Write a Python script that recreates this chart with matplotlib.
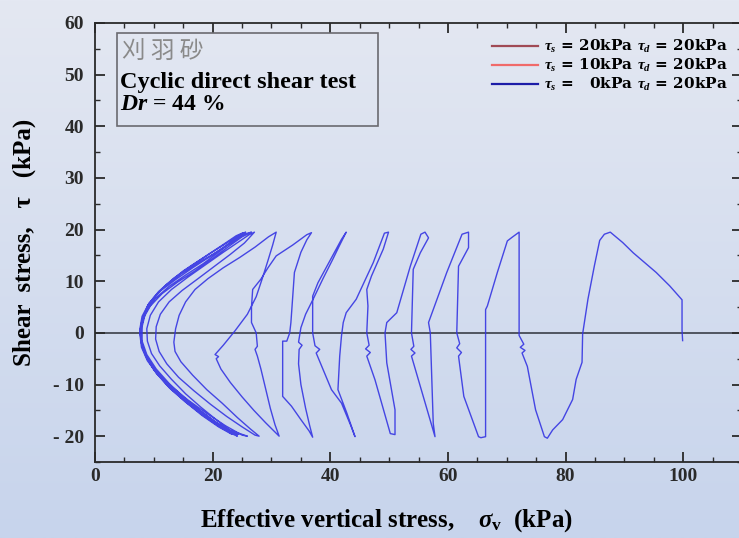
import numpy as np
import matplotlib
matplotlib.use("Agg")
import matplotlib.pyplot as plt
from matplotlib.lines import Line2D
from matplotlib.patches import Rectangle
from matplotlib.colors import LinearSegmentedColormap
from matplotlib.ticker import MultipleLocator, FuncFormatter

plt.rcParams['font.family'] = ['Liberation Serif', 'DejaVu Serif']
plt.rcParams['font.weight'] = 'bold'
plt.rcParams['axes.labelweight'] = 'bold'
plt.rcParams['mathtext.fontset'] = 'custom'
plt.rcParams['mathtext.rm'] = 'Liberation Serif:bold'
plt.rcParams['mathtext.it'] = 'Liberation Serif:italic:bold'
plt.rcParams['mathtext.bf'] = 'Liberation Serif:bold'

# stress path, tau_s = 0 kPa, tau_d = 20 kPa  (high sigma'v cycles)
sig_early = [99.9, 99.8, 99.8, 97.7, 95.4, 91.5, 89.7, 87.6,
             86.6, 85.8, 84.9, 83.8, 82.9, 82.8, 81.8, 81.2, 79.5, 77.8, 76.9, 76.4,
             74.9, 73.5, 72.6, 73.1, 72.3, 72.9, 72.1, 72.1,
             70.9, 70.1, 68.4, 66.7, 66.4, 66.4, 65.6,
             65.2, 62.7, 61.8, 62.3, 61.5, 62.0, 61.5, 61.8, 63.5, 63.5,
             62.4, 59.8, 57.5, 56.7, 57.0, 57.5, 57.8,
             55.8, 53.8, 54.4, 53.7, 54.2, 53.8, 54.1, 55.3, 56.7, 56.1,
             55.4, 53.6, 51.3, 49.6, 49.3, 49.6, 50.4, 51.0, 51.0,
             50.2, 47.6, 46.2, 46.8, 46.0, 46.6, 46.2, 46.4, 46.2, 47.0, 49.0, 49.9,
             49.2, 47.3, 44.4, 42.7, 42.2, 41.9, 41.6, 41.3, 42.8, 44.2,
             43.5, 41.9, 40.2, 37.6, 38.2, 37.4, 37.0, 37.0, 37.9, 41.9, 42.7,
             41.6, 40.4, 38.8, 37.2, 35.8, 35.0, 34.6, 35.2, 34.7, 34.6, 35.0, 35.8, 36.5, 37.0,
             36.4, 35.0, 33.4, 31.9, 31.9, 31.9, 32.6, 33.1, 33.3, 33.6, 33.9, 35.0, 36.0, 36.8,
             36.0, 33.6, 30.8, 29.4, 28.2, 26.8, 26.6, 26.6, 27.4, 27.6, 27.2, 27.6, 28.2, 29.0, 29.8, 30.6, 31.3,
             30.6, 29.0, 27.0, 25.0, 23.0, 21.4, 20.6, 21.0, 20.4, 21.8, 23.8, 25.9, 27.4, 28.4, 29.4, 30.2, 30.8]
tau_early = [-1.5, 0.5, 6.4, 9.1, 11.7, 15.5, 17.5, 19.5,
             19.1, 17.9, 13.0, 6.5, -0.2, -5.7, -9.0, -12.9, -16.8, -18.8, -20.4, -20.1,
             -14.9, -6.5, -3.9, -3.4, -2.8, -2.2, -0.5, 19.5,
             18.5, 17.8, 11.7, 5.2, 4.5, -20.1, -20.3,
             -20.1, -12.3, -4.5, -3.8, -2.9, -2.1, 0.0, 12.9, 16.5, 19.5,
             19.1, 11.7, 4.5, 2.0, 0.0, -17.5, -20.1,
             -12.3, -4.5, -3.9, -3.2, -2.6, 0.0, 12.3, 15.5, 18.4, 19.5,
             19.1, 12.9, 3.9, 2.0, 0.0, -5.8, -11.0, -14.9, -19.7,
             -19.5, -9.1, -4.5, -3.8, -3.1, -2.4, 0.0, 5.2, 8.4, 11.0, 16.2, 19.5,
             19.3, 13.6, 6.5, 3.9, 2.0, -0.6, -4.5, -11.0, -15.5, -20.1,
             -18.0, -13.6, -11.0, -3.9, -3.2, -2.5, 0.0, 7.1, 9.7, 18.1, 19.5,
             17.0, 14.2, 10.6, 6.8, 3.6, 1.0, -1.8, -2.4, -3.2, -6.0, -10.0, -14.6, -18.0, -20.2,
             -19.0, -16.8, -14.2, -12.3, -6.0, -1.6, -1.6, 0.0, 2.0, 7.0, 11.7, 15.6, 18.0, 19.4,
             19.0, 17.0, 14.9, 12.6, 10.4, 8.4, 5.0, 2.0, 0.0, -2.6, -3.2, -4.5, -7.0, -10.8, -14.6, -17.8, -20.0,
             -19.2, -17.4, -15.0, -12.4, -9.6, -7.0, -5.0, -4.6, -4.2, -2.4, 0.4, 3.6, 7.0, 10.4, 14.0, 17.0, 19.5]

# butterfly-shaped cycles at low sigma'v
sig_late = [29.5, 27.2, 24.6, 21.8, 19.2, 17.0, 15.4, 14.3, 13.7, 13.4, 13.6, 14.6, 16.6, 19.0, 21.6, 24.2, 26.4, 27.9,
            27.2, 25.0, 22.4, 19.6, 16.8, 14.2, 12.2, 10.9, 10.3, 10.4, 11.1, 12.6, 14.8, 17.4, 20.2, 23.0, 25.4, 27.1,
            26.2, 24.4, 21.8, 18.8, 15.8, 13.0, 10.8, 9.4, 8.8, 8.9, 9.6, 11.0, 13.0, 15.4, 18.0, 20.6, 22.8, 24.2,
            23.4, 21.2, 18.4, 15.4, 12.6, 10.4, 8.9, 8.0, 7.7, 8.2, 9.4, 11.4, 14.0, 17.0, 20.0, 22.8, 25.0, 26.6,
            25.6, 23.4, 20.6, 17.6, 14.6, 11.8, 9.8, 8.5, 7.9, 7.8, 8.3, 9.5, 11.4, 13.8, 16.6, 19.6, 22.8, 25.9,
            25.0, 22.2, 19.0, 15.8, 12.8, 10.4, 8.8, 7.9, 7.6, 8.0, 9.2, 11.2, 13.8, 16.6, 19.6, 22.4, 24.4, 25.6,
            24.6, 22.4, 19.6, 16.4, 13.4, 10.8, 9.0, 8.0, 7.6, 7.9, 8.9, 10.6, 12.8, 15.4, 18.2, 21.0, 23.2, 24.4,
            23.6, 21.0, 18.0, 15.0, 12.2, 10.0, 8.6, 7.8, 7.8, 8.6, 10.2, 12.6, 15.4, 18.4, 21.2, 23.4, 25.2,
            24.0, 21.4, 18.2, 15.0, 12.2, 10.0, 8.6, 8.0, 8.0, 8.8, 10.4, 12.6, 15.2, 18.0, 20.6, 22.6, 23.0]
tau_late = [18.6, 16.6, 14.6, 12.6, 10.5, 8.4, 6.0, 3.4, 0.8, -1.8, -3.6, -5.6, -8.2, -11.0, -13.6, -16.4, -18.6, -20.0,
            -19.8, -18.2, -16.2, -13.8, -11.2, -8.6, -6.0, -3.6, -1.2, 1.2, 3.6, 6.0, 8.2, 10.4, 12.8, 15.2, 17.4, 19.5,
            19.0, 17.6, 15.6, 13.2, 10.8, 8.4, 6.0, 3.4, 0.8, -1.6, -4.0, -6.4, -9.0, -11.8, -14.4, -16.8, -18.8, -20.0,
            -19.6, -18.2, -16.0, -13.4, -10.6, -7.8, -5.0, -2.4, 0.2, 2.8, 5.2, 7.6, 9.8, 12.0, 14.4, 16.8, 18.6, 19.5,
            19.2, 17.6, 15.6, 13.6, 11.4, 9.0, 6.6, 4.0, 1.4, -1.0, -3.6, -6.2, -8.8, -11.6, -14.2, -16.8, -18.8, -20.0,
            -19.8, -18.0, -15.6, -13.0, -10.2, -7.4, -4.6, -2.0, 0.6, 3.2, 5.8, 8.2, 10.4, 12.6, 14.8, 17.0, 18.6, 19.5,
            19.0, 17.4, 15.4, 13.0, 10.6, 8.0, 5.4, 2.6, 0.0, -2.8, -5.4, -8.0, -10.8, -13.4, -16.0, -18.2, -19.6, -19.6,
            -19.4, -17.6, -15.2, -12.6, -10.0, -7.2, -4.4, -1.6, 1.2, 4.0, 6.6, 9.0, 11.2, 13.4, 15.8, 17.8, 19.4,
            18.8, 16.8, 14.4, 12.0, 9.4, 6.8, 4.0, 1.2, -1.6, -4.2, -7.0, -9.8, -12.6, -15.2, -17.4, -19.0, -19.4]

legend_labels = [r"$\tau_{s}$ = 20kPa $\tau_{d}$ = 20kPa",
                 r"$\tau_{s}$ = 10kPa $\tau_{d}$ = 20kPa",
                 r"$\tau_{s}$ =   0kPa $\tau_{d}$ = 20kPa"]
legend_colors = ['#a04a55', '#f06a6a', '#1c1ca8']

fig = plt.figure(figsize=(7.39, 5.38), dpi=100)

# light blue gradient background
bg = fig.add_axes([0, 0, 1, 1], zorder=-10)
grad = np.linspace(0, 1, 256).reshape(-1, 1)
cmap = LinearSegmentedColormap.from_list('bg', ['#e4e8f2', '#c7d4ec'])
bg.imshow(grad, aspect='auto', cmap=cmap, extent=[0, 1, 0, 1], origin='upper')
bg.axis('off')

ax = fig.add_axes([0.1286, 0.1413, 0.8755, 0.816])
ax.set_facecolor('none')

sig = sig_early + sig_late
tau = tau_early + tau_late
ax.plot(sig, tau, color='#3535e2', lw=1.0, alpha=0.9)
ax.axhline(0, color='#505560', lw=1.4, zorder=1)

ax.set_xlim(0, 110)
ax.set_ylim(-25, 60)
ax.xaxis.set_major_locator(MultipleLocator(20))
ax.xaxis.set_minor_locator(MultipleLocator(5))
ax.yaxis.set_major_locator(MultipleLocator(10))
ax.yaxis.set_minor_locator(MultipleLocator(5))
ax.tick_params(which='both', direction='in', top=True, right=True, colors='#2a2a2a')
ax.tick_params(which='major', length=7, width=1.3, labelsize=14)
ax.tick_params(axis='x', which='major', pad=4)
ax.tick_params(axis='y', which='major', pad=8)
ax.tick_params(which='minor', length=3.5, width=1.0)
ax.yaxis.set_major_formatter(FuncFormatter(lambda v, p: f"- {abs(int(v))}" if v < 0 else f"{int(v)}"))
for s in ax.spines.values():
    s.set_color('#2a2a2a')
    s.set_linewidth(1.3)

ax.set_xlabel(r"Effective vertical stress,    $\sigma_{\rm v}$  (kPa)", fontsize=18)
ax.xaxis.set_label_coords(0.45, -0.103)
ax.set_ylabel("Shear  stress,   τ   (kPa)", fontsize=18, labelpad=12)

handles = [Line2D([], [], color=c, lw=1.6) for c in legend_colors]
leg = ax.legend(handles, legend_labels, loc='upper right', bbox_to_anchor=(0.978, 0.965),
                frameon=False, prop={'family': 'DejaVu Serif', 'weight': 'bold', 'size': 11},
                handlelength=3.0, handletextpad=0.4, labelspacing=0.12, borderpad=0, borderaxespad=0)

box = Rectangle((0.158, 0.766), 0.3535, 0.1725, transform=fig.transFigure,
                facecolor='none', edgecolor='#6a6a70', lw=1.2)
fig.patches.append(box)
fig.text(0.165, 0.903, "刈 羽 砂", fontsize=17, color='#8a8a8a', va='center',
         family=['Noto Sans CJK JP', 'DejaVu Sans'], fontweight='normal')
fig.text(0.163, 0.847, "Cyclic direct shear test", fontsize=17.5, va='center')
fig.text(0.163, 0.806, r"$Dr$ = 44 %", fontsize=17, va='center')

fig.savefig("out.png", dpi=100)
